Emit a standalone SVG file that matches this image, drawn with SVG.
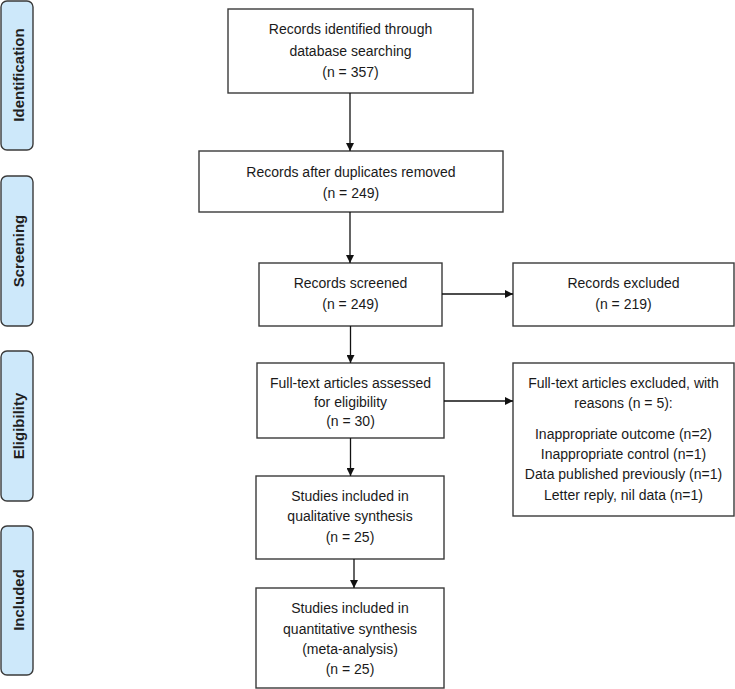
<svg xmlns="http://www.w3.org/2000/svg" width="735" height="689" viewBox="0 0 735 689">
<style>
.box{fill:#fff;stroke:#3a3a3a;stroke-width:1.4}
.side{fill:#cde8fa;stroke:#3a3a3a;stroke-width:1.4}
.t{font-family:"Liberation Sans",Arial,sans-serif;font-size:14px;fill:#1a1a1a;text-anchor:middle;dominant-baseline:central}
.s{font-family:"Liberation Sans",Arial,sans-serif;font-size:15px;font-weight:bold;fill:#1f1f1f;text-anchor:middle;dominant-baseline:central}
.c{stroke:#111;stroke-width:1.3;fill:none;marker-end:url(#ah)}
</style>
<defs>
<marker id="ah" viewBox="0 0 10 10" refX="10" refY="5" markerWidth="8" markerHeight="8" markerUnits="userSpaceOnUse" orient="auto">
<path d="M0,0 L10,5 L0,10 z" fill="#111"/>
</marker>
</defs>
<g id="side-identification"><rect class="side" x="1" y="1" width="32" height="149" rx="6"/><text class="s" transform="translate(18,75) rotate(-90)">Identification</text></g>
<g id="side-screening"><rect class="side" x="1" y="176" width="32" height="150" rx="6"/><text class="s" transform="translate(18,251) rotate(-90)">Screening</text></g>
<g id="side-eligibility"><rect class="side" x="1" y="351" width="32" height="150" rx="6"/><text class="s" transform="translate(18,426) rotate(-90)">Eligibility</text></g>
<g id="side-included"><rect class="side" x="1" y="526" width="32" height="149" rx="6"/><text class="s" transform="translate(18,600) rotate(-90)">Included</text></g>

<g id="identified"><rect class="box" x="228" y="9" width="245" height="84"/>
<text class="t" x="350.5" y="29">Records identified through</text>
<text class="t" x="350.5" y="51">database searching</text>
<text class="t" x="350.5" y="72">(n = 357)</text></g>

<g id="duplicates"><rect class="box" x="199" y="151" width="304" height="61"/>
<text class="t" x="351" y="172">Records after duplicates removed</text>
<text class="t" x="351" y="193">(n = 249)</text></g>

<g id="screened"><rect class="box" x="259" y="263" width="183" height="63"/>
<text class="t" x="350.5" y="283">Records screened</text>
<text class="t" x="350.5" y="304">(n = 249)</text></g>

<g id="excluded"><rect class="box" x="513" y="263" width="221" height="63"/>
<text class="t" x="623.5" y="283">Records excluded</text>
<text class="t" x="623.5" y="304">(n = 219)</text></g>

<g id="fulltext"><rect class="box" x="257" y="363" width="187" height="75"/>
<text class="t" x="350.5" y="383">Full-text articles assessed</text>
<text class="t" x="350.5" y="402">for eligibility</text>
<text class="t" x="350.5" y="421">(n = 30)</text></g>

<g id="ft-excluded"><rect class="box" x="513" y="363" width="221" height="153"/>
<text class="t" x="623.5" y="383">Full-text articles excluded, with</text>
<text class="t" x="623.5" y="403">reasons (n = 5):</text>
<text class="t" x="623.5" y="434">Inappropriate outcome (n=2)</text>
<text class="t" x="623.5" y="454">Inappropriate control (n=1)</text>
<text class="t" x="623.5" y="474">Data published previously (n=1)</text>
<text class="t" x="623.5" y="495">Letter reply, nil data (n=1)</text></g>

<g id="qualitative"><rect class="box" x="256" y="476" width="188" height="83"/>
<text class="t" x="350" y="496">Studies included in</text>
<text class="t" x="350" y="516">qualitative synthesis</text>
<text class="t" x="350" y="537">(n = 25)</text></g>

<g id="quantitative"><rect class="box" x="256" y="588" width="188" height="100"/>
<text class="t" x="350" y="608">Studies included in</text>
<text class="t" x="350" y="629">quantitative synthesis</text>
<text class="t" x="350" y="649">(meta-analysis)</text>
<text class="t" x="350" y="669">(n = 25)</text></g>

<g id="connectors">
<line class="c" x1="350" y1="93" x2="350" y2="151"/>
<line class="c" x1="350" y1="212" x2="350" y2="263"/>
<line class="c" x1="442" y1="294" x2="513" y2="294"/>
<line class="c" x1="350.5" y1="326" x2="350.5" y2="363"/>
<line class="c" x1="444" y1="401" x2="513" y2="401"/>
<line class="c" x1="350.5" y1="438" x2="350.5" y2="476"/>
<line class="c" x1="354" y1="559" x2="354" y2="588"/>
</g>
</svg>
